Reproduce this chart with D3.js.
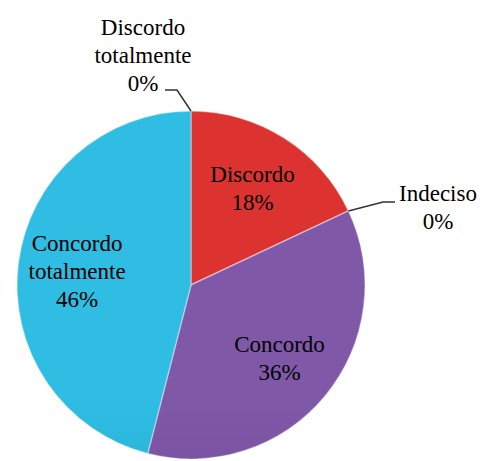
<!DOCTYPE html>
<html>
<head>
<meta charset="utf-8">
<script src="https://cdn.jsdelivr.net/npm/d3@7"></script>
<style>
  body { margin: 0; background: #fff; }
</style>
</head>
<body>
<div id="chart"></div>
<script>
const width = 483;
const height = 461;

// chart data
const categories = ['Discordo totalmente', 'Discordo', 'Indeciso', 'Concordo', 'Concordo totalmente'];
const values = [0, 18, 0, 36, 46];
const labelLines = [
    ['Discordo', 'totalmente', '0%'],
    ['Discordo', '18%'],
    ['Indeciso', '0%'],
    ['Concordo', '36%'],
    ['Concordo', 'totalmente', '46%']
];
const colorsTop = ['#2dbde3', '#dc3331', '#7a7a7a', '#8058a8', '#2fbde3'];
const colorsBottom = ['#1e9fbf', '#c22628', '#5a5a5a', '#683f92', '#1b9aba'];

const cx = 191, cy = 285, radius = 174;
const lineHeight = 28;
const fontFamily = "'Times New Roman', Times, Tinos, 'Liberation Serif', 'DejaVu Serif', serif";

// placement of the labels for empty slices (leader line elbow + text centre)
const outsideLayout = {
    0: { elbow: [177, 90], end: [165, 90], text: [143, 27] },
    2: { elbow: [383, 202], end: [395, 202], text: [438, 193] }
};

const svg = d3.select('#chart').append('svg')
    .attr('width', width)
    .attr('height', height)
    .style('font-family', fontFamily);

const defs = svg.append('defs');
categories.forEach((c, i) => {
    const g = defs.append('linearGradient')
        .attr('id', 'grad' + i)
        .attr('gradientUnits', 'userSpaceOnUse')
        .attr('x1', cx).attr('y1', cy - radius)
        .attr('x2', cx).attr('y2', cy + radius);
    g.append('stop').attr('offset', '0%').attr('stop-color', colorsTop[i]);
    g.append('stop').attr('offset', '100%').attr('stop-color', colorsBottom[i]);
});

const pie = d3.pie().sort(null).value(d => d);
const arcs = pie(values);

const arc = d3.arc().innerRadius(0).outerRadius(radius);
const labelArc = d3.arc().innerRadius(radius * 0.66).outerRadius(radius * 0.66);

const g = svg.append('g').attr('transform', `translate(${cx},${cy})`);

g.selectAll('path.slice')
    .data(arcs)
    .enter()
    .append('path')
    .attr('class', 'slice')
    .attr('d', arc)
    .attr('fill', (d, i) => `url(#grad${i})`)
    .attr('stroke', 'rgba(255,255,255,0.35)')
    .attr('stroke-width', 1.5);

function addLabel(parent, x, y, lines) {
    const t = parent.append('text')
        .attr('text-anchor', 'middle')
        .style('font-family', fontFamily)
        .attr('font-size', '23px')
        .attr('fill', '#000');
    lines.forEach((line, j) => {
        t.append('tspan')
            .attr('x', x)
            .attr('y', y + j * lineHeight)
            .attr('dy', '0.35em')
            .text(line);
    });
}

// labels inside the slices
arcs.forEach((d, i) => {
    if (d.value === 0) return;
    const [x, y] = labelArc.centroid(d);
    const lines = labelLines[i];
    addLabel(g, x, y - (lines.length - 1) / 2 * lineHeight, lines);
});

// labels for empty slices, with leader lines
arcs.forEach((d, i) => {
    if (d.value !== 0) return;
    const lay = outsideLayout[i];
    const a = d.startAngle;
    const sx = cx + radius * Math.sin(a);
    const sy = cy - radius * Math.cos(a);
    svg.append('polyline')
        .attr('points', [[sx, sy], lay.elbow, lay.end].map(p => p.join(',')).join(' '))
        .attr('fill', 'none')
        .attr('stroke', '#333')
        .attr('stroke-width', 1.5);
    addLabel(svg, lay.text[0], lay.text[1], labelLines[i]);
});
</script>
</body>
</html>
